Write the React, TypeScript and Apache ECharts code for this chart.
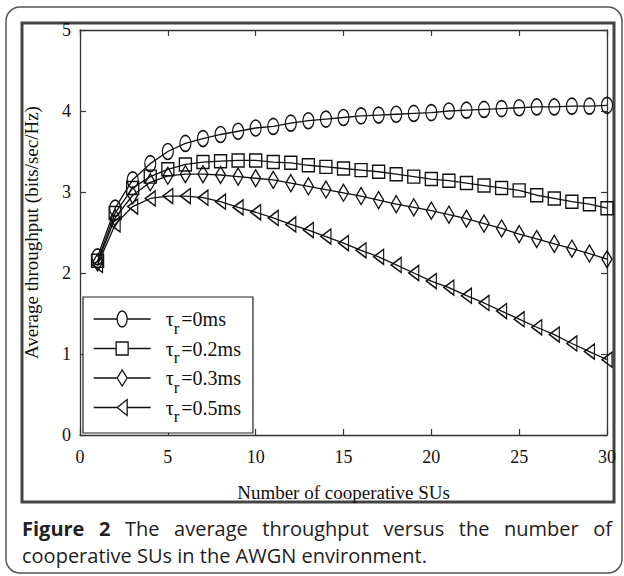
import React, { useEffect, useRef } from "react";
import * as echarts from "echarts";

// ---- data ----
const xs = [1, 2, 3, 4, 5, 6, 7, 8, 9, 10, 11, 12, 13, 14, 15, 16, 17, 18, 19, 20, 21, 22, 23, 24, 25, 26, 27, 28, 29, 30];
const tau0ms = [2.2, 2.8, 3.15, 3.35, 3.5, 3.6, 3.66, 3.71, 3.75, 3.79, 3.81, 3.85, 3.88, 3.9, 3.92, 3.94, 3.95, 3.96, 3.97, 3.98, 4.0, 4.01, 4.02, 4.03, 4.04, 4.05, 4.05, 4.06, 4.06, 4.07];
const tau02ms = [2.15, 2.74, 3.05, 3.19, 3.28, 3.34, 3.37, 3.38, 3.39, 3.39, 3.37, 3.36, 3.33, 3.31, 3.29, 3.27, 3.25, 3.22, 3.19, 3.16, 3.14, 3.11, 3.08, 3.05, 3.02, 2.96, 2.92, 2.88, 2.85, 2.8];
const tau03ms = [2.13, 2.68, 2.96, 3.12, 3.2, 3.22, 3.22, 3.21, 3.19, 3.17, 3.15, 3.11, 3.07, 3.03, 2.99, 2.95, 2.9, 2.85, 2.81, 2.77, 2.72, 2.67, 2.61, 2.55, 2.48, 2.42, 2.36, 2.3, 2.24, 2.17];
const tau05ms = [2.1, 2.6, 2.82, 2.92, 2.95, 2.95, 2.93, 2.88, 2.81, 2.75, 2.68, 2.6, 2.53, 2.45, 2.37, 2.28, 2.2, 2.1, 2.0, 1.9, 1.82, 1.72, 1.63, 1.53, 1.43, 1.33, 1.24, 1.13, 1.03, 0.93];
const legendValues = ["0ms", "0.2ms", "0.3ms", "0.5ms"];
const seriesNames = ["τr=0ms", "τr=0.2ms", "τr=0.3ms", "τr=0.5ms"];
const xTicks = { min: 0, max: 30, interval: 5 };
const yTicks = { min: 0, max: 5, interval: 1 };
const xTitle = "Number of cooperative SUs";
const yTitle = "Average throughput (bits/sec/Hz)";
const captionBold = ["Figure", "2"];
const captionLine1 = ["The", "average", "throughput", "versus", "the", "number", "of"];
const captionLine2 = "cooperative SUs in the AWGN environment.";

const SERIF = '"Liberation Serif", "Times New Roman", serif';
const SANS = '"Open Sans", "Noto Sans", sans-serif';
const INK = "#111";

const ellipse = "path://M5,0 A5,8 0 1,1 5,16 A5,8 0 1,1 5,0 Z";
const leftTri = "path://M0,8 L10,0 L10,16 Z";
const symbols: any[] = [ellipse, "rect", "diamond", leftTri];
const symbolSizes: any[] = [[11, 16], [12, 13], [10, 17], [10, 15]];

// legend icons: line + marker, fit into a 57x16 box
const legendIcons = [
  "path://M0,8 L23.5,8 M23.5,8 A5,8 0 1,1 33.5,8 A5,8 0 1,1 23.5,8 M33.5,8 L57,8",
  "path://M0,8 L22.5,8 M22.5,1.5 L34.5,1.5 L34.5,14.5 L22.5,14.5 Z M34.5,8 L57,8 M0,0 L0,0 M0,16 L0,16",
  "path://M0,8 L23.5,8 L28.5,0 L33.5,8 L28.5,16 L23.5,8 M33.5,8 L57,8",
  "path://M0,8 L23.5,8 L33.5,0 L33.5,16 L23.5,8 M33.5,8 L57,8",
];

function measure(text: string, font: string): number {
  const c = document.createElement("canvas").getContext("2d");
  if (!c) return text.length * 8;
  c.font = font;
  return c.measureText(text).width;
}

export default function App() {
  const ref = useRef<HTMLDivElement>(null);
  useEffect(() => {
    if (!ref.current) return;
    const chart = echarts.init(ref.current, null, { renderer: "svg" });
    const allSeries = [tau0ms, tau02ms, tau03ms, tau05ms];

    // caption layout
    const capLeft = 22;
    const capRight = 612;
    const line2Width = 406;
    const w100 = measure(captionLine2, `100px ${SANS}`);
    const fs = Math.max(12, Math.min(20, (100 * line2Width) / w100));
    const boldFont = `bold ${fs}px ${SANS}`;
    const normFont = `${fs}px ${SANS}`;
    const words = [
      ...captionBold.map((w) => ({ w, bold: true })),
      ...captionLine1.map((w) => ({ w, bold: false })),
    ];
    const widths = words.map((o) => measure(o.w, o.bold ? boldFont : normFont));
    const total = widths.reduce((a, b) => a + b, 0);
    const gap = (capRight - capLeft - total) / (words.length - 1);
    let cx = capLeft;
    const captionEls: any[] = words.map((o, i) => {
      const el = {
        type: "text",
        x: cx,
        y: 528,
        style: {
          text: o.w,
          font: o.bold ? boldFont : normFont,
          fill: "#222",
          textVerticalAlign: "middle",
          textAlign: "left",
        },
      };
      cx += widths[i] + gap;
      return el;
    });
    captionEls.push({
      type: "text",
      x: capLeft,
      y: 555,
      style: {
        text: captionLine2,
        font: normFont,
        fill: "#222",
        textVerticalAlign: "middle",
        textAlign: "left",
      },
    });

    const axisCommon = {
      type: "value" as const,
      axisLine: { show: true, onZero: false, lineStyle: { color: "#333", width: 1.3 } },
      axisTick: { show: true, inside: true, length: 6, lineStyle: { color: "#333", width: 1.2 } },
      splitLine: { show: false },
    };

    chart.setOption({
      animation: false,
      backgroundColor: "#fff",
      grid: { left: 80, right: 17, top: 30, bottom: 141, containLabel: false },
      xAxis: [
        {
          ...axisCommon,
          ...xTicks,
          position: "bottom",
          name: xTitle,
          nameLocation: "middle",
          nameGap: 48,
          nameTextStyle: { fontFamily: SERIF, fontSize: 19, color: INK },
          axisLabel: { fontFamily: SERIF, fontSize: 18, color: INK, margin: 13 },
        },
        {
          ...axisCommon,
          ...xTicks,
          position: "top",
          axisLabel: { show: false },
        },
      ],
      yAxis: [
        {
          ...axisCommon,
          ...yTicks,
          position: "left",
          name: yTitle,
          nameLocation: "middle",
          nameGap: 39,
          nameTextStyle: { fontFamily: SERIF, fontSize: 19, color: INK },
          axisLabel: { fontFamily: SERIF, fontSize: 18, color: INK, margin: 9 },
        },
        {
          ...axisCommon,
          ...yTicks,
          position: "right",
          axisLabel: { show: false },
        },
      ],
      legend: {
        orient: "vertical",
        left: 83,
        top: 297,
        padding: [12, 12, 8, 10],
        itemWidth: 57,
        itemHeight: 16,
        itemGap: 2,
        backgroundColor: "#fff",
        borderColor: "#222",
        borderWidth: 1.2,
        borderRadius: 0,
        selectedMode: false,
        itemStyle: { color: "rgba(0,0,0,0)", borderColor: INK, borderWidth: 1.3 },
        data: seriesNames.map((n, i) => ({ name: n, icon: legendIcons[i] })),
        formatter: (name: string) => {
          const i = seriesNames.indexOf(name);
          return `{t|τ}{s|r}{v|=${legendValues[i]}}`;
        },
        textStyle: {
          fontFamily: SERIF,
          fontSize: 20,
          color: INK,
          padding: [0, 0, 0, 10],
          rich: {
            t: { fontFamily: SERIF, fontSize: 20, color: INK },
            s: { fontFamily: SERIF, fontSize: 17, color: INK, padding: [18, 0, 0, 0] },
            v: { fontFamily: SERIF, fontSize: 20, color: INK, padding: [0, 0, 0, 2] },
          },
        },
      },
      series: allSeries.map((vals, i) => ({
        type: "line",
        name: seriesNames[i],
        xAxisIndex: 0,
        yAxisIndex: 0,
        data: xs.map((x, j) => [x, vals[j]]),
        symbol: symbols[i],
        symbolSize: symbolSizes[i],
        showAllSymbol: true,
        lineStyle: { color: INK, width: 1.3 },
        itemStyle: { color: "rgba(0,0,0,0)", borderColor: INK, borderWidth: 1.4 },
        emphasis: { disabled: true },
        z: 3,
      })),
      graphic: [
        {
          type: "rect",
          z: 0,
          silent: true,
          shape: { x: 6, y: 7, width: 616, height: 566, r: 14 },
          style: { fill: "none", stroke: "#555", lineWidth: 1.5 },
        },
        {
          type: "rect",
          z: 0,
          silent: true,
          shape: { x: 22, y: 23, width: 592, height: 479 },
          style: { fill: "none", stroke: "#444", lineWidth: 3 },
        },
        ...captionEls,
      ],
    });
    return () => chart.dispose();
  }, []);
  return <div ref={ref} style={{ width: 624, height: 576, position: "absolute", left: 0, top: 0 }} />;
}
